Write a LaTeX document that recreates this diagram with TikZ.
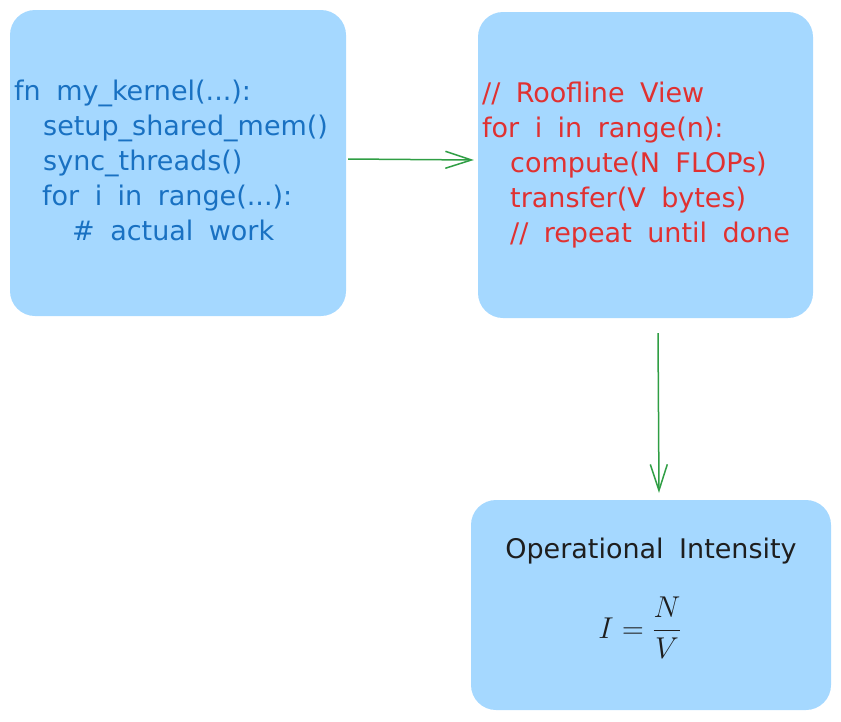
\documentclass[tikz,border=0pt]{standalone}
\usepackage{fontspec}
\usepackage{amsmath}
\usetikzlibrary{arrows.meta}
\newfontfamily\hand[WordSpace=1.8]{DejaVu Sans}
\definecolor{boxfill}{HTML}{A5D8FF}
\definecolor{codeblue}{HTML}{1971C2}
\definecolor{codered}{HTML}{E03131}
\definecolor{inkblack}{HTML}{1E1E1E}
\definecolor{arrowgreen}{HTML}{2F9E44}
\tikzset{
  card/.style={fill=boxfill, draw=none, rounded corners=25pt, inner sep=0pt},
  codeline/.style={anchor=base west, inner sep=0pt, font={\hand\fontsize{27}{32}\selectfont}},
  blueline/.style={codeline, text=codeblue},
  redline/.style={codeline, text=codered},
  flow/.style={draw=arrowgreen, line width=1.5pt, -{Straight Barb[length=26pt,width=17pt,line width=1.5pt]}},
}
\begin{document}
\begin{tikzpicture}[x=1pt,y=-1pt]
\useasboundingbox (0,0) rectangle (841,721);
% boxes
\node[card, minimum width=336pt, minimum height=306pt] (b1) at (178,163) {};
\node[card, minimum width=335pt, minimum height=306pt] (b2) at (645.5,165) {};
\node[card, minimum width=360pt, minimum height=210pt] (b3) at (651,605) {};
% box 1 code
\node[blueline] (c1) at (14,100) {fn my\_kernel(...):};
\node[blueline] (c2) at (43,135) {setup\_shared\_mem()};
\node[blueline] (c3) at (43,170) {sync\_threads()};
\node[blueline] (c4) at (42,205) {for i in range(...):};
\node[blueline] (c5) at (72,240) {\# actual work};
% box 2 code
\node[redline] (r1) at (482,102) {// Roofline View};
\node[redline] (r2) at (482,137) {for i in range(n):};
\node[redline] (r3) at (510,172) {compute(N FLOPs)};
\node[redline] (r4) at (510,207) {transfer(V bytes)};
\node[redline] (r5) at (510,242) {// repeat until done};
% box 3
\node[anchor=base, inner sep=0pt, text=inkblack, font={\hand\fontsize{27}{32}\selectfont}] (t1) at (651,558) {Operational Intensity};
\node[anchor=base, inner sep=0pt, text=inkblack, scale=1.21, font={\fontsize{24}{30}\selectfont}] (t2) at (640,638) {$\displaystyle I=\frac{N}{V}$};
% arrows
\draw[flow] ([xshift=2pt,yshift=4pt]b1.east) -- ([xshift=-4pt,yshift=5pt]b2.west);
\draw[flow] ([xshift=12.5pt,yshift=-15pt]b2.south) -- ([xshift=8pt,yshift=7pt]b3.north);
\end{tikzpicture}
\end{document}
